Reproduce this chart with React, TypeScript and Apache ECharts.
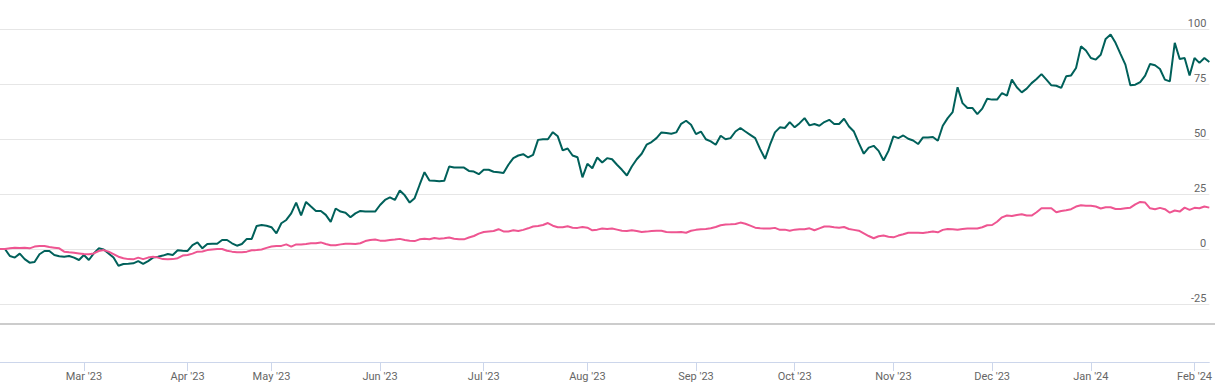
import React, { useEffect, useRef } from "react";
import * as echarts from "echarts";

// Trading calendar (NSE) used as the category axis
const START_DATE = "2023-02-06";
const END_DATE = "2024-02-06";
const HOLIDAYS = [
  "2023-03-07", "2023-03-30", "2023-04-04", "2023-04-07", "2023-04-14",
  "2023-05-01", "2023-06-28", "2023-08-15", "2023-09-19", "2023-10-02",
  "2023-10-24", "2023-11-14", "2023-11-27", "2023-12-25", "2024-01-22",
  "2024-01-26",
];
const MONTH_NAMES = ["Jan", "Feb", "Mar", "Apr", "May", "Jun", "Jul", "Aug", "Sep", "Oct", "Nov", "Dec"];

// Y-axis ticks
const Y_MIN = -25;
const Y_MAX = 100;
const Y_STEP = 25;

// % return of the stock (dark green)
const stockReturns = [
  0, 0.0, -3.2, -3.9, -2.1, -4.6, -6.2, -5.9, -2.4, -0.9, -0.9, -2.7, -3.3, -3.5, -3.2, -3.9, -5.0, -2.7, -5.0, -2.0,
  0.3, -0.2, -2.0, -3.9, -7.6, -6.8, -6.7, -6.5, -5.5, -6.8, -5.5, -3.9, -3.5, -3.0, -2.3, -2.7, -0.6, -0.8, -0.9, 1.8,
  3.0, 0.3,
  2.3, 2.4, 2.4, 4.1, 4.1, 2.6, 1.5, 2.3, 4.6, 4.6, 10.5, 10.9, 10.6, 9.9, 7.1, 11.7, 13.2, 16.2, 21.1, 15.3,
  21.4, 19.3, 17.3, 17.3, 15.5, 12.3, 18.4, 17.0, 16.5, 14.4, 16.2, 17.3, 17.0, 17.0, 17.0, 20.0, 22.3, 23.5, 22.3, 26.6, 24.4,
  21.1, 23.1, 29.1, 34.9, 31.1, 31.0, 30.8, 31.0, 37.5, 37.0, 37.0, 37.0, 35.5, 35.2, 34.0, 36.0, 36.0, 35.1, 34.9, 34.5,
  38.3, 41.3, 42.5, 43.1, 41.6, 42.8, 49.6, 49.9, 49.9, 53.1, 51.2, 44.8, 45.7, 42.5, 41.7, 32.6, 38.7, 36.7, 41.6, 39.3,
  41.3, 40.8, 38.3, 36.0, 33.4, 37.5, 40.8, 43.3, 47.4, 48.6, 50.4, 53.0, 52.7, 52.4, 53.0, 56.9, 58.3, 56.5, 52.2, 53.4,
  49.9, 48.9, 47.4, 51.5, 49.9, 50.4, 53.4, 55.0, 53.4, 51.9, 50.4, 45.4, 41.0, 47.4, 53.0, 55.3, 55.0, 57.7, 55.3, 57.2,
  59.5, 56.2, 56.8, 56.0, 57.7, 58.7, 56.8, 56.8, 59.2, 55.7, 53.4, 48.1, 43.3, 46.1, 46.9, 44.6, 40.2, 44.6, 51.2, 50.4,
  51.6, 50.1, 49.3, 47.7, 50.7, 50.7, 50.9, 49.2, 56.0, 59.5, 62.2, 73.5, 66.3, 64.1, 64.1, 61.3, 63.8, 68.3, 67.9, 67.9, 70.9,
  69.7, 77.0, 73.5, 71.2, 72.9, 75.4, 77.3, 79.5, 77.0, 74.4, 74.2, 73.2, 78.5, 78.9, 82.3, 92.1, 90.2, 86.8, 86.1, 88.3,
  95.5, 97.5, 93.7, 88.7, 83.8, 74.4, 74.7, 75.9, 78.8, 84.1, 83.5, 81.8, 77.0, 76.2, 93.7, 86.4, 86.8, 78.9, 86.8, 84.6,
  86.8, 85.0,
];

// % return of the benchmark index (pink)
const benchmarkReturns = [
  0, 0.0, 0.3, 0.6, 0.5, 0.6, 0.3, 1.1, 1.4, 1.4, 0.9, 0.6, 0.3, -1.2, -1.5, -1.7, -2.0, -2.3, -2.4, -2.0,
  -0.9, -0.5, -1.2, -2.3, -3.5, -4.2, -4.6, -4.7, -3.9, -4.6, -3.9, -3.5, -3.9, -4.6, -4.7, -4.6, -4.2, -3.0, -2.7, -2.1,
  -1.2, -1.1,
  -0.5, -0.2, 0.0, 0.0, -0.8, -1.2, -1.5, -1.5, -1.2, -0.6, -0.5, -0.2, 0.5, 1.1, 1.4, 1.4, 2.1, 1.1, 2.1, 2.1,
  2.3, 2.6, 2.6, 3.0, 2.3, 1.7, 1.7, 2.1, 2.4, 2.4, 2.3, 2.6, 3.6, 4.1, 4.3, 3.8, 3.8, 4.1, 4.3, 4.6, 4.1,
  3.8, 3.6, 4.4, 4.7, 4.4, 5.0, 4.7, 4.9, 5.2, 4.7, 4.4, 4.4, 5.2, 5.9, 7.0, 7.7, 8.0, 8.2, 9.0, 8.0,
  8.0, 8.5, 8.2, 8.7, 9.4, 10.2, 10.5, 10.9, 11.8, 10.6, 9.9, 9.9, 10.3, 9.7, 9.6, 10.0, 9.7, 8.5, 8.8, 9.3,
  9.1, 9.3, 8.8, 8.3, 8.2, 8.5, 8.2, 7.7, 7.9, 8.2, 8.3, 8.3, 7.7, 7.6, 7.6, 7.7, 7.4, 8.3, 8.7, 9.0,
  9.1, 9.4, 10.0, 10.8, 11.1, 11.2, 11.4, 12.0, 11.5, 10.6, 9.7, 9.4, 9.3, 9.3, 9.6, 8.7, 8.8, 8.3, 8.8, 9.0,
  9.0, 9.4, 8.5, 9.4, 10.2, 10.2, 9.9, 9.7, 10.0, 9.1, 8.7, 8.3, 7.1, 5.9, 4.9, 5.8, 6.1, 5.6, 5.3, 6.1,
  6.7, 7.4, 7.4, 7.4, 7.3, 7.6, 8.0, 7.6, 8.7, 9.1, 9.0, 8.8, 9.1, 9.3, 9.3, 9.3, 9.9, 10.8, 10.9, 12.4, 14.4,
  15.2, 15.0, 15.5, 15.8, 15.2, 15.2, 16.7, 18.5, 18.5, 18.5, 16.7, 17.3, 17.6, 18.1, 19.3, 19.9, 19.7, 19.7, 19.3, 18.4,
  19.0, 19.0, 18.2, 18.2, 18.5, 18.8, 20.3, 21.4, 21.1, 18.5, 18.1, 18.7, 18.1, 16.5, 17.5, 17.0, 18.8, 17.8, 18.7, 18.5,
  19.3, 18.8,
];

function buildTradingDays(start: string, end: string, holidays: string[]): string[] {
  const out: string[] = [];
  const hol = new Set(holidays);
  const d = new Date(start + "T00:00:00Z");
  const last = new Date(end + "T00:00:00Z");
  while (d.getTime() <= last.getTime()) {
    const wd = d.getUTCDay();
    const iso = d.toISOString().slice(0, 10);
    if (wd !== 0 && wd !== 6 && !hol.has(iso)) out.push(iso);
    d.setUTCDate(d.getUTCDate() + 1);
  }
  return out;
}

const tradingDates = buildTradingDays(START_DATE, END_DATE, HOLIDAYS);

function isMonthStart(index: number): boolean {
  if (index <= 0) return false;
  return tradingDates[index].slice(0, 7) !== tradingDates[index - 1].slice(0, 7);
}

function monthLabel(value: string): string {
  const m = parseInt(value.slice(5, 7), 10) - 1;
  return MONTH_NAMES[m] + " '" + value.slice(2, 4);
}

export default function App() {
  const ref = useRef<HTMLDivElement>(null);

  useEffect(() => {
    if (!ref.current) return;
    const chart = echarts.init(ref.current, undefined, { renderer: "svg" });
    const font = "Roboto, 'Liberation Sans', Arial, sans-serif";
    chart.setOption({
      animation: false,
      grid: { left: 0, right: 2, top: 29, height: 275, containLabel: false },
      xAxis: {
        type: "category",
        data: tradingDates,
        boundaryGap: false,
        position: "bottom",
        offset: 58,
        axisLine: { show: true, onZero: false, lineStyle: { color: "#ccd6eb", width: 1 } },
        axisTick: {
          show: true,
          interval: (i: number) => isMonthStart(i),
          length: 9,
          lineStyle: { color: "#ccd6eb" },
        },
        axisLabel: {
          interval: (i: number) => isMonthStart(i),
          formatter: (v: string) => monthLabel(v),
          color: "#666666",
          fontSize: 11,
          fontFamily: font,
          margin: 9,
        },
        splitLine: { show: false },
      },
      yAxis: {
        type: "value",
        position: "right",
        min: Y_MIN,
        max: Y_MAX,
        interval: Y_STEP,
        axisLine: { show: false },
        axisTick: { show: false },
        splitLine: { show: true, lineStyle: { color: "#e6e6e6", width: 1 } },
        axisLabel: {
          inside: true,
          verticalAlign: "bottom",
          margin: 3,
          color: "#666666",
          fontSize: 11,
          fontFamily: font,
        },
      },
      series: [
        {
          name: "Stock",
          type: "line",
          data: stockReturns,
          showSymbol: false,
          lineStyle: { color: "#00605a", width: 2 },
          itemStyle: { color: "#00605a" },
        },
        {
          name: "Benchmark",
          type: "line",
          data: benchmarkReturns,
          showSymbol: false,
          lineStyle: { color: "#ee5591", width: 2 },
          itemStyle: { color: "#ee5591" },
        },
      ],
      graphic: [
        {
          type: "line",
          silent: true,
          shape: { x1: 0, y1: 324, x2: 1215, y2: 324 },
          style: { stroke: "#cccccc", lineWidth: 2 },
        },
      ],
    });
    return () => chart.dispose();
  }, []);

  return (
    <div
      ref={ref}
      style={{ position: "absolute", left: 0, top: 0, width: 1215, height: 384 }}
    />
  );
}
